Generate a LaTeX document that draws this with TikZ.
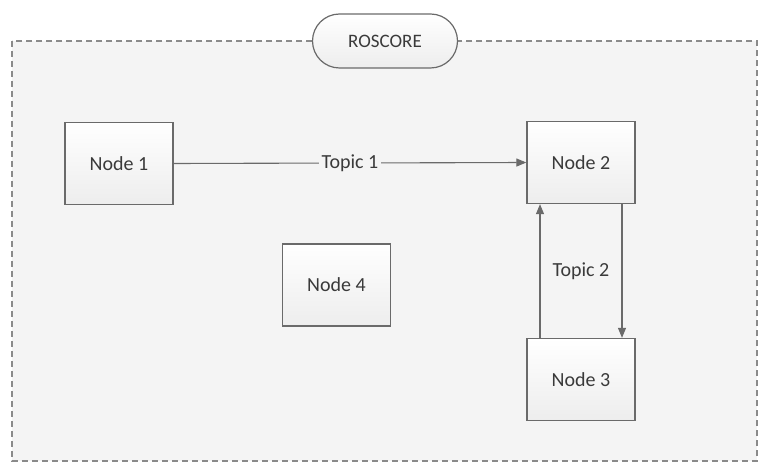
\documentclass[tikz,border=0pt]{standalone}
\usepackage{fontspec}
\setmainfont{Carlito}
\usetikzlibrary{arrows.meta}
\definecolor{linegray}{HTML}{6A6A6A}
\definecolor{txtgray}{HTML}{3A3A3A}
\definecolor{bggray}{HTML}{F4F4F4}
\definecolor{boxbot}{HTML}{EDEDED}
\definecolor{framegray}{HTML}{8A8A8A}
\tikzset{
  box/.style={draw=linegray, line width=1.3pt, top color=white, bottom color=boxbot,
    minimum width=108pt, minimum height=82pt, inner sep=0pt, text=txtgray, font=\fontsize{20}{22}\selectfont},
  pill/.style={draw=linegray, line width=1.2pt, rounded corners=27pt, top color=white, bottom color=boxbot,
    minimum width=145pt, minimum height=54pt, inner sep=0pt, text=txtgray, font=\fontsize{19}{22}\selectfont},
  conn/.style={draw=linegray, line width=1.1pt, -{Triangle[length=10pt,width=8pt]}},
  lbl/.style={text=txtgray, font=\fontsize{20}{22}\selectfont, inner sep=3pt}
}
\begin{document}
\begin{tikzpicture}[x=1pt,y=-1pt]
\useasboundingbox (0,0) rectangle (768,470);
\fill[white] (0,0) rectangle (768,470);
% frame
\filldraw[fill=bggray, draw=framegray, line width=1.2pt, dash pattern=on 6pt off 4pt] (12,41) rectangle (757,461);
\node[pill] (ros) at (385,41) {ROSCORE};
% nodes
\node[box] (n1) at (119,163.5) {Node 1};
\node[box] (n2) at (581,162.5) {Node 2};
\node[box] (n3) at (581,379.5) {Node 3};
\node[box] (n4) at (336.5,285) {Node 4};
% topic 1
\draw[conn] (n1.east) -- node[lbl, fill=bggray, pos=0.5] (t1) {Topic 1} (n2.west);
% topic 2
\coordinate (u3) at ([xshift=-41pt]n3.north);
\coordinate (u2) at ([xshift=-41pt]n2.south);
\coordinate (d2) at ([xshift=41pt]n2.south);
\coordinate (d3) at ([xshift=41pt]n3.north);
\draw[conn] (u3) -- (u2);
\draw[conn] (d2) -- (d3);
\node[lbl] (t2) at (581,271) {Topic 2};
\end{tikzpicture}
\end{document}
